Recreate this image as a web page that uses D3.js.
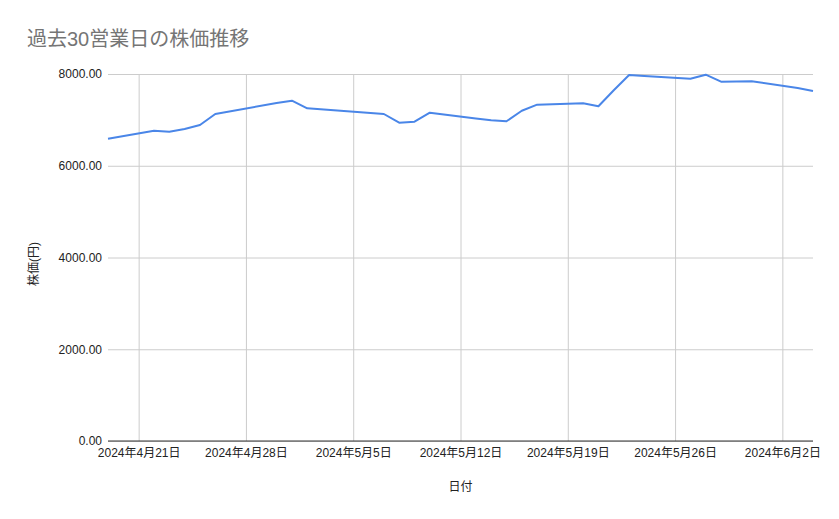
<!DOCTYPE html>
<html>
<head>
    <meta charset="utf-8">
    <title>過去30営業日の株価推移</title>
    <script src="https://d3js.org/d3.v7.min.js"></script>
    <style>
        body { margin: 0; background: #fff; }
        text { font-family: "Liberation Sans", Arial, "Noto Sans CJK JP", sans-serif; }
    </style>
</head>
<body>
    <svg width="839" height="519"></svg>
    <script>
        // Business days (Japanese holidays skipped)
        var dates = [
            "2024-04-19", "2024-04-22", "2024-04-23", "2024-04-24", "2024-04-25", "2024-04-26",
            "2024-04-30", "2024-05-01", "2024-05-02", "2024-05-07", "2024-05-08", "2024-05-09",
            "2024-05-10", "2024-05-13", "2024-05-14", "2024-05-15", "2024-05-16", "2024-05-17",
            "2024-05-20", "2024-05-21", "2024-05-22", "2024-05-23", "2024-05-24", "2024-05-27",
            "2024-05-28", "2024-05-29", "2024-05-30", "2024-05-31", "2024-06-03", "2024-06-04"
        ];
        var prices = [
            6590, 6764, 6742, 6801, 6888, 7128,
            7366, 7418, 7252, 7128, 6938, 6960,
            7156, 7032, 6991, 6969, 7200, 7331,
            7361, 7296, 7645, 7978, 7956, 7898,
            7985, 7832, 7836, 7841, 7695, 7629
        ];
        var yTicks = [0, 2000, 4000, 6000, 8000];

        var parse = d3.timeParse("%Y-%m-%d");
        var data = dates.map(function(d, i) { return { date: parse(d), price: prices[i] }; });

        var svg = d3.select("svg");
        var plotLeft = 108, plotRight = 813, plotTop = 74, plotBottom = 441;

        var x = d3.scaleTime()
            .domain(d3.extent(data, function(d) { return d.date; }))
            .range([plotLeft, plotRight]);

        var y = d3.scaleLinear()
            .domain([0, 8000])
            .range([plotBottom, plotTop]);

        // Title
        svg.append("text")
            .attr("x", 27)
            .attr("y", 46)
            .attr("fill", "#757575")
            .attr("font-size", 20)
            .text("過去30営業日の株価推移");

        // Horizontal grid + y labels
        var yAxis = d3.axisLeft(y)
            .tickValues(yTicks)
            .tickFormat(d3.format(".2f"))
            .tickSize(-(plotRight - plotLeft))
            .tickPadding(6);

        var gy = svg.append("g")
            .attr("transform", "translate(" + plotLeft + ",0)")
            .call(yAxis);
        gy.select(".domain").remove();
        gy.selectAll("line").attr("stroke", "#cccccc");
        gy.selectAll("text").attr("font-size", 12).attr("fill", "#222");

        // Vertical grid + x labels (weekly, Sundays)
        var weeks = d3.timeWeek.range(x.domain()[0], x.domain()[1]);
        var xAxis = d3.axisBottom(x)
            .tickValues(weeks)
            .tickFormat(d3.timeFormat("%Y年%-m月%-d日"))
            .tickSize(-(plotBottom - plotTop))
            .tickPadding(7);

        var gx = svg.append("g")
            .attr("transform", "translate(0," + plotBottom + ")")
            .call(xAxis);
        gx.select(".domain").remove();
        gx.selectAll("line").attr("stroke", "#cccccc");
        gx.selectAll("text").attr("font-size", 12).attr("fill", "#222");

        // Baseline
        svg.append("line")
            .attr("x1", plotLeft).attr("x2", plotRight)
            .attr("y1", y(0)).attr("y2", y(0))
            .attr("stroke", "#333")
            .attr("stroke-width", 1);

        // Price line
        var line = d3.line()
            .x(function(d) { return x(d.date); })
            .y(function(d) { return y(d.price); });

        svg.append("path")
            .datum(data)
            .attr("fill", "none")
            .attr("stroke", "#4a86e8")
            .attr("stroke-width", 2)
            .attr("stroke-linejoin", "round")
            .attr("d", line);

        // Axis titles
        svg.append("text")
            .attr("x", (plotLeft + plotRight) / 2)
            .attr("y", 491)
            .attr("text-anchor", "middle")
            .attr("font-size", 12)
            .attr("fill", "#222")
            .text("日付");

        svg.append("text")
            .attr("transform", "translate(38,264) rotate(-90)")
            .attr("text-anchor", "middle")
            .attr("font-size", 12)
            .attr("fill", "#222")
            .text("株価(円)");
    </script>
</body>
</html>
